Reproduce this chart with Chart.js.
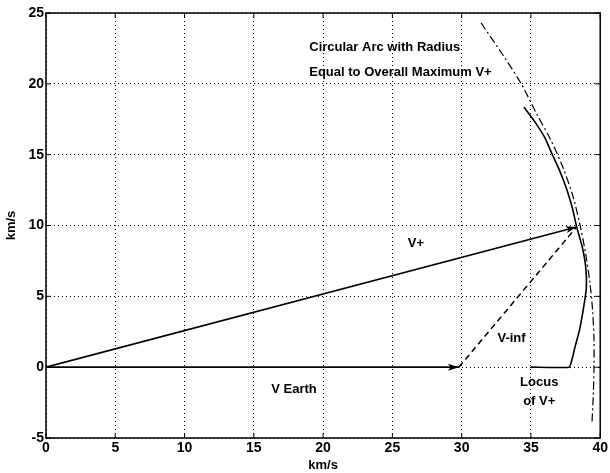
<!DOCTYPE html>
<html>
<head>
<meta charset="utf-8">
<script src="https://cdn.jsdelivr.net/npm/chart.js@4"></script>
<style>
  html, body { margin: 0; padding: 0; background: #fff; }
  #wrap { width: 610px; height: 473px; }
</style>
</head>
<body>
<div id="wrap"><canvas id="c" width="610" height="473"></canvas></div>
<script>
// Velocity vectors (km/s)
const vEarth = [{x: 0, y: 0}, {x: 29.8, y: 0}];
const vPlus = [{x: 0, y: 0}, {x: 38.3, y: 9.9}];
const vInf = [{x: 29.8, y: 0}, {x: 38.3, y: 9.9}];

// Locus of the resulting V+ tip
const locusV = [
  {x: 35.0, y: 0}, {x: 37.75, y: 0}, {x: 37.95, y: 0.5}, {x: 38.2, y: 1.5},
  {x: 38.5, y: 2.6}, {x: 38.8, y: 4.2}, {x: 39.0, y: 5.6}, {x: 38.95, y: 7.1},
  {x: 38.7, y: 8.5}, {x: 38.3, y: 9.9}, {x: 38.0, y: 11.2}, {x: 37.6, y: 12.5},
  {x: 37.1, y: 13.8}, {x: 36.5, y: 15.1}, {x: 36.0, y: 16.2}, {x: 35.3, y: 17.3},
  {x: 34.5, y: 18.35}
];

// Circular arc at the overall maximum V+
const maxArc = [
  {x: 31.4, y: 24.3}, {x: 33.0, y: 22}, {x: 34.3, y: 20}, {x: 35.35, y: 18},
  {x: 36.45, y: 16}, {x: 37.35, y: 14}, {x: 38.05, y: 12}, {x: 38.55, y: 10},
  {x: 38.95, y: 8}, {x: 39.25, y: 6}, {x: 39.45, y: 4}, {x: 39.55, y: 2},
  {x: 39.55, y: 0}, {x: 39.5, y: -2}, {x: 39.4, y: -4}
];

// Axis ticks
const xTicks = [0, 5, 10, 15, 20, 25, 30, 35, 40];
const yTicks = [-5, 0, 5, 10, 15, 20, 25];

// Text notes placed in data units
const notes = [
  {text: 'Circular Arc with Radius', x: 19.0, y: 22.6, align: 'left'},
  {text: 'Equal to Overall Maximum V+', x: 19.0, y: 20.8, align: 'left'},
  {text: 'V+', x: 26.7, y: 8.7, align: 'center'},
  {text: 'V-inf', x: 33.6, y: 2.0, align: 'center'},
  {text: 'V Earth', x: 17.9, y: -1.6, align: 'center'},
  {text: 'Locus', x: 35.6, y: -1.05, align: 'center'},
  {text: 'of V+', x: 35.6, y: -2.4, align: 'center'}
];

const FONT = '"Liberation Sans", Arial, sans-serif';

const arrowPlugin = {
  id: 'arrows',
  afterDatasetsDraw(chart) {
    const ctx = chart.ctx;
    const xs = chart.scales.x, ys = chart.scales.y;
    chart.data.datasets.forEach(ds => {
      if (!ds.arrow) return;
      const n = ds.data.length;
      const a = ds.data[n - 2], b = ds.data[n - 1];
      const x1 = xs.getPixelForValue(a.x), y1 = ys.getPixelForValue(a.y);
      const x2 = xs.getPixelForValue(b.x), y2 = ys.getPixelForValue(b.y);
      const ang = Math.atan2(y2 - y1, x2 - x1);
      const L = 11, W = 3.5;
      ctx.save();
      ctx.fillStyle = '#000';
      ctx.beginPath();
      ctx.moveTo(x2, y2);
      ctx.lineTo(x2 - L * Math.cos(ang) + W * Math.sin(ang), y2 - L * Math.sin(ang) - W * Math.cos(ang));
      ctx.lineTo(x2 - L * 0.75 * Math.cos(ang), y2 - L * 0.75 * Math.sin(ang));
      ctx.lineTo(x2 - L * Math.cos(ang) - W * Math.sin(ang), y2 - L * Math.sin(ang) + W * Math.cos(ang));
      ctx.closePath();
      ctx.fill();
      ctx.restore();
    });
  }
};

const framePlugin = {
  id: 'frame',
  afterDraw(chart) {
    const ctx = chart.ctx;
    const a = chart.chartArea;
    const xs = chart.scales.x, ys = chart.scales.y;
    ctx.save();
    ctx.strokeStyle = '#000';
    ctx.lineWidth = 1.5;
    ctx.strokeRect(a.left, a.top, a.right - a.left, a.bottom - a.top);
    ctx.lineWidth = 1;
    const t = 5;
    ctx.beginPath();
    xTicks.forEach(v => {
      const px = xs.getPixelForValue(v);
      ctx.moveTo(px, a.bottom); ctx.lineTo(px, a.bottom - t);
      ctx.moveTo(px, a.top); ctx.lineTo(px, a.top + t);
    });
    yTicks.forEach(v => {
      const py = ys.getPixelForValue(v);
      ctx.moveTo(a.left, py); ctx.lineTo(a.left + t, py);
      ctx.moveTo(a.right, py); ctx.lineTo(a.right - t, py);
    });
    ctx.stroke();
    // notes
    ctx.fillStyle = '#000';
    ctx.font = 'bold 13px ' + FONT;
    ctx.textBaseline = 'middle';
    notes.forEach(n => {
      ctx.textAlign = n.align;
      ctx.fillText(n.text, xs.getPixelForValue(n.x), ys.getPixelForValue(n.y));
    });
    ctx.restore();
  }
};

const line = (data, extra) => Object.assign({
  data, showLine: true, borderColor: '#000', borderWidth: 1.6,
  pointRadius: 0, fill: false
}, extra);

new Chart(document.getElementById('c'), {
  type: 'scatter',
  data: {
    datasets: [
      line(vEarth, {arrow: true}),
      line(vPlus, {arrow: true}),
      line(vInf, {borderDash: [6, 4], borderWidth: 1.5}),
      line(locusV, {tension: 0.15}),
      line(maxArc, {borderDash: [8, 3, 2, 3], borderWidth: 1.2, tension: 0.3})
    ]
  },
  options: {
    responsive: false,
    animation: false,
    layout: {padding: {left: 4, right: 9, top: 13, bottom: 0}},
    plugins: {legend: {display: false}, tooltip: {enabled: false}},
    scales: {
      x: {
        type: 'linear', min: 0, max: 40,
        afterBuildTicks: s => { s.ticks = xTicks.map(v => ({value: v})); },
        afterFit: s => { s.height = 35; },
        border: {display: false, dash: [1, 3]},
        grid: {color: '#000', lineWidth: 1, drawTicks: false},
        ticks: {color: '#000', padding: 2, maxRotation: 0, font: {family: FONT, size: 14, weight: 'bold'}},
        title: {display: true, text: 'km/s', color: '#000', padding: 0, font: {family: FONT, size: 13, weight: 'bold'}}
      },
      y: {
        type: 'linear', min: -5, max: 25,
        afterBuildTicks: s => { s.ticks = yTicks.map(v => ({value: v})); },
        afterFit: s => { s.width = 42; },
        border: {display: false, dash: [1, 3]},
        grid: {color: '#000', lineWidth: 1, drawTicks: false},
        ticks: {color: '#000', padding: 2, font: {family: FONT, size: 14, weight: 'bold'}},
        title: {display: true, text: 'km/s', color: '#000', padding: 0, font: {family: FONT, size: 13, weight: 'bold'}}
      }
    }
  },
  plugins: [arrowPlugin, framePlugin]
});
</script>
</body>
</html>
